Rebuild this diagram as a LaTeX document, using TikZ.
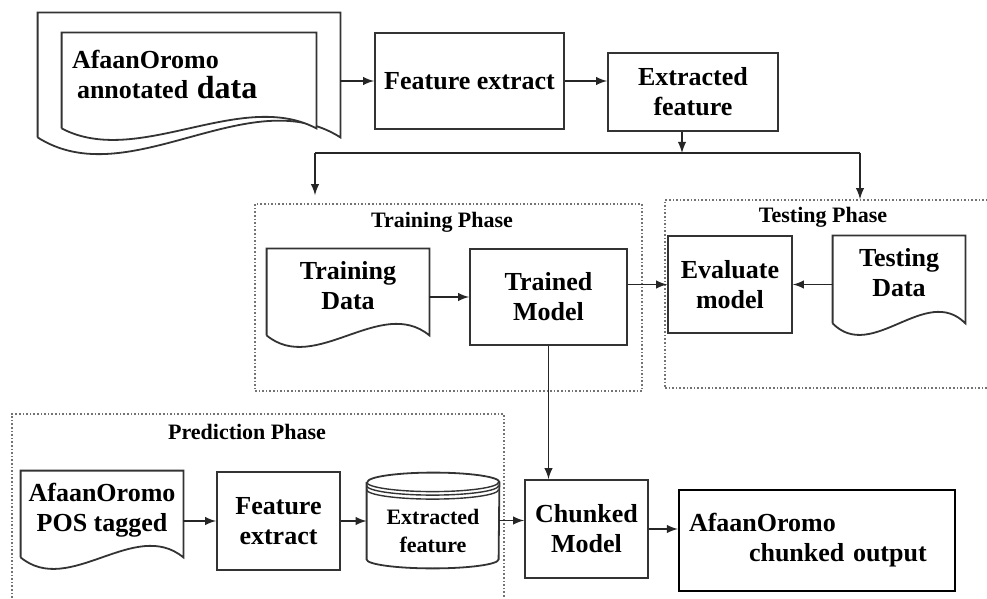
\documentclass[tikz,border=0pt]{standalone}
\usepackage{fontspec}
\setmainfont{Liberation Serif}
\usetikzlibrary{arrows,calc}

% page outline with a wavy bottom edge: node name, width in px
\newcommand{\docoutline}[2]{%
  \draw[outline] (#1.south west) -- (#1.north west) -- (#1.north east) -- (#1.south east)
    .. controls +(-0.3*#2,-40) and +(0.3*#2,40) .. (#1.south west);}

\begin{document}
\begin{tikzpicture}[x=0.5pt, y=-0.5pt,
    outline/.style={draw=black!80, line width=0.9pt},
    txt/.style={font=\bfseries\fontsize{13}{15}\selectfont, align=center, inner sep=2pt},
    box/.style={txt, outline},
    doc/.style={txt, text depth=7pt},
    phase/.style={draw=black!55, densely dotted, line width=0.8pt},
    phaselabel/.style={font=\bfseries\fontsize{11}{13}\selectfont},
    arrow/.style={-latex, line width=0.9pt, draw=black!85},
    wire/.style={line width=0.9pt, draw=black!85}]
    \useasboundingbox (0,0) rectangle (987,599);
    % phase frames
    \node[phase, minimum width=193.5pt, minimum height=93.5pt] (trainphase) at (448.5,297.5) {};
    \node[phase, minimum width=165pt, minimum height=94pt] (testphase) at (830,294) {};
    \node[phase, minimum width=246pt, minimum height=95.5pt] (predphase) at (258,509.5) {};
    \node[phaselabel] (trainlbl) at (442,222) {Training Phase};
    \node[phaselabel] (testlbl) at (823,217) {Testing Phase};
    \node[phaselabel] (predlbl) at (247,432) {Prediction Phase};
    % annotated corpus (two stacked pages)
    \node[minimum width=151pt, minimum height=62pt] (anno) at (189,75) {};
    \draw[outline] (anno.south west) -- (anno.north west) -- (anno.north east) -- (anno.south east)
      .. controls +(-91,-58) and +(91,58) .. (anno.south west);
    \draw[outline, fill=white] ($(anno.south west)+(24,-9)$) -- ($(anno.north west)+(24,20)$)
      -- ($(anno.north east)+(-24,20)$) -- ($(anno.south east)+(-24,-9)$)
      .. controls +(-76,-40) and +(76,40) .. ($(anno.south west)+(24,-9)$);
    \node[txt, text width=117pt, align=left] (annotxt) at (anno)
      {AfaanOromo\\\hspace{2.5pt}annotated {\fontsize{16}{15}\selectfont data}};
    % feature extraction
    \node[box, minimum width=94.5pt, minimum height=48pt] (fe1) at (469.5,81) {Feature extract};
    \node[box, minimum width=85pt, minimum height=39pt] (ef1) at (693,92) {Extracted\\feature};
    % training phase
    \node[doc, minimum width=81pt, minimum height=43pt] (tdata) at (348,292) {Training\\Data};
    \docoutline{tdata}{162}
    \node[box, minimum width=78.5pt, minimum height=48pt] (tmodel) at (548.5,297) {Trained\\Model};
    % testing phase
    \node[box, minimum width=62pt, minimum height=48.5pt] (evalm) at (730,284.5) {Evaluate\\model};
    \node[doc, minimum width=66pt, minimum height=43.5pt] (tsdata) at (899,279.5) {Testing\\Data};
    \docoutline{tsdata}{132}
    % prediction phase
    \node[doc, minimum width=81pt, minimum height=43pt] (pos) at (102,514) {AfaanOromo\\POS tagged};
    \docoutline{pos}{162}
    \node[box, minimum width=61.5pt, minimum height=49pt] (fe2) at (278.5,521) {Feature\\extract};
    \node[minimum width=66pt, minimum height=47.5pt] (ef2) at (433,520.5) {};
    \draw[outline] ($(ef2.north west)+(0,9.5)$) -- ($(ef2.south west)+(0,-9)$)
      arc[start angle=180, end angle=360, x radius=33pt, y radius=4.5pt]
      -- ($(ef2.north east)+(0,9.5)$)
      arc[start angle=0, end angle=180, x radius=33pt, y radius=4.75pt];
    \foreach \dy in {9.5,13,17}
      \draw[outline, line width=0.7pt] ($(ef2.north west)+(0,\dy)$)
        arc[start angle=180, end angle=360, x radius=33pt, y radius=4.75pt];
    \node[txt, font=\bfseries\fontsize{11}{14}\selectfont] (ef2txt) at (433,531) {Extracted\\feature};
    \node[box, minimum width=61.5pt, minimum height=49pt] (chunk) at (586.5,529) {Chunked\\Model};
    \node[txt, draw=black, line width=1.1pt, minimum width=138pt, minimum height=50.5pt,
      text width=128pt, inner xsep=5pt, align=left] (output) at (817,540.5)
      {AfaanOromo\\\hspace{30pt}chunked output};
    % connectors
    \coordinate (split) at (682,153);
    \coordinate (lsplit) at (315,153);
    \coordinate (rsplit) at (860,153);
    \draw[arrow] (fe1.west -| anno.east) -- (fe1.west);
    \draw[arrow] (fe1.east) -- (fe1.east -| ef1.west);
    \draw[arrow] (ef1.south -| split) -- (split);
    \draw[wire] (lsplit) -- (rsplit);
    \draw[arrow] (lsplit) -- ([yshift=4pt]lsplit |- trainphase.north);
    \draw[arrow] (rsplit) -- (rsplit |- testphase.north);
    \draw[arrow] (tmodel.west -| tdata.east) -- (tmodel.west);
    \draw[arrow] (evalm.west -| tmodel.east) -- (evalm.west);
    \draw[arrow] (evalm.east -| tsdata.west) -- (evalm.east);
    \draw[arrow] (tmodel.south) -- (tmodel.south |- chunk.north);
    \draw[arrow] (fe2.west -| pos.east) -- (fe2.west);
    \draw[arrow] (fe2.east) -- (fe2.east -| ef2.west);
    \draw[arrow] (ef2.east) -- (ef2.east -| chunk.west);
    \draw[arrow] (chunk.east) -- (chunk.east -| output.west);
\end{tikzpicture}
\end{document}
